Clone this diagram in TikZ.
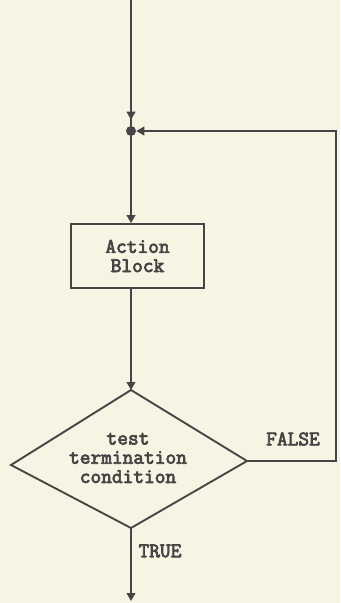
\documentclass[tikz,border=0pt]{standalone}
\usepackage{fontspec}
\setmonofont[AutoFakeBold=3.5]{Latin Modern Mono}
\usetikzlibrary{arrows.meta}
\definecolor{paper}{HTML}{F8F4E4}
\definecolor{ink}{HTML}{464444}
\begin{document}
\begin{tikzpicture}[x=0.75pt,y=-0.75pt,
  flow/.style={draw=ink,line width=1.4pt},
  tip/.style={-{Triangle[length=6pt,width=6.5pt]}},
  joindot/.style={circle,fill=ink,inner sep=0pt,minimum size=7.5pt},
  lbl/.style={font=\ttfamily\bfseries\fontsize{15.6}{14.4}\selectfont,text=ink,align=center,inner sep=0pt},
  actbox/.style={lbl,draw=ink,line width=1.4pt,minimum width=99.75pt,minimum height=48pt}]
% paper background
\fill[paper] (0,0) rectangle (340,603);
\useasboundingbox (0,0) rectangle (340,603);

% entry, join point and action block
\coordinate (top) at (131,0);
\node[joindot] (join) at (131,131) {};
\node[actbox] (act) at (137.5,256) {Action\\Block};

% decision diamond corners and its text
\coordinate (dN) at (131,390);
\coordinate (dE) at (247,461);
\coordinate (dS) at (131,528);
\coordinate (dW) at (11,465);
\node[lbl] (cond) at (128,458) {test\\termination\\condition};

% loop-back corners and exit
\coordinate (cB) at (336,461);
\coordinate (cT) at (336,131);
\coordinate (exit) at (131,601);

\node[lbl] (false) at (293,439) {FALSE};
\node[lbl] (true) at (160,551) {TRUE};

% connectors
\draw[flow] (top) -- (join);
\draw[flow,tip,shorten >=4.5pt] (top) -- (join.north);
\draw[flow,tip] (join) -- (join |- act.north);
\draw[flow,tip] (join |- act.south) -- (dN);
\draw[flow,line join=miter] (dN) -- (dE) -- (dS) -- (dW) -- cycle;
\draw[flow,tip] (dE) -- (cB) -- (cT) -- (join.east);
\draw[flow,tip] (dS) -- (exit);
\end{tikzpicture}
\end{document}
